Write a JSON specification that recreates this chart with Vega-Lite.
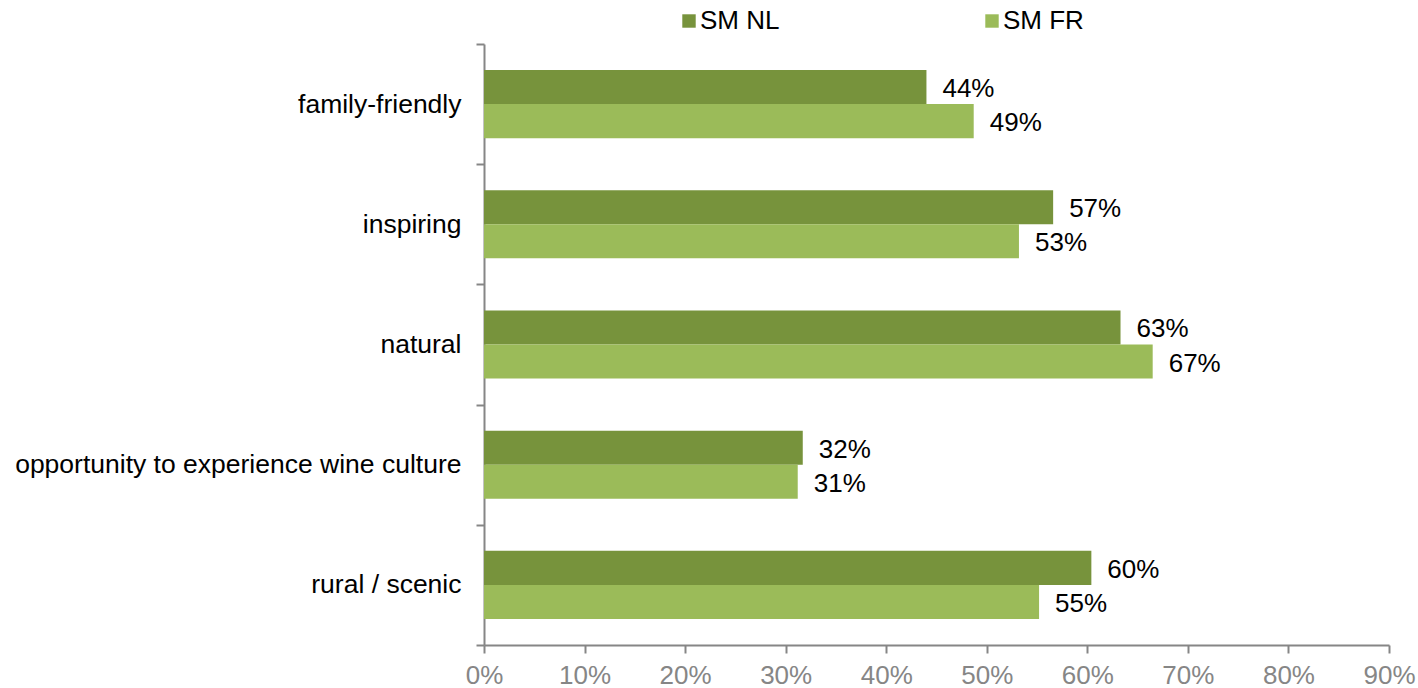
{
  "$schema": "https://vega.github.io/schema/vega-lite/v6.json",
  "width": 905,
  "height": 601,
  "autosize": {"type": "none"},
  "padding": {"left": 484, "top": 44, "right": 29, "bottom": 43},
  "background": "white",
  "config": {
    "view": {"stroke": null},
    "font": "Liberation Sans"
  },
  "data": {
    "values": [
      {"attribute": "family-friendly", "series": "SM NL", "share": 0.44},
      {"attribute": "family-friendly", "series": "SM FR", "share": 0.487},
      {"attribute": "inspiring", "series": "SM NL", "share": 0.566},
      {"attribute": "inspiring", "series": "SM FR", "share": 0.532},
      {"attribute": "natural", "series": "SM NL", "share": 0.633},
      {"attribute": "natural", "series": "SM FR", "share": 0.665},
      {"attribute": "opportunity to experience wine culture", "series": "SM NL", "share": 0.317},
      {"attribute": "opportunity to experience wine culture", "series": "SM FR", "share": 0.312},
      {"attribute": "rural / scenic", "series": "SM NL", "share": 0.604},
      {"attribute": "rural / scenic", "series": "SM FR", "share": 0.552}
    ]
  },
  "encoding": {
    "y": {
      "field": "attribute",
      "type": "nominal",
      "sort": null,
      "title": null,
      "scale": {"paddingInner": 0, "paddingOuter": 0},
      "axis": {
        "tickBand": "extent",
        "domainColor": "#868686",
        "domainWidth": 2,
        "tickColor": "#868686",
        "tickWidth": 2,
        "tickSize": 8,
        "labelPadding": 15,
        "labelFontSize": 26.5,
        "labelColor": "#000000",
        "labelLimit": 600
      }
    },
    "yOffset": {
      "field": "series",
      "type": "nominal",
      "sort": ["SM NL", "SM FR"],
      "scale": {"paddingInner": 0, "paddingOuter": 0.765}
    },
    "x": {
      "field": "share",
      "type": "quantitative",
      "title": null,
      "scale": {"domain": [0, 0.9], "nice": false},
      "axis": {
        "format": ".0%",
        "values": [0, 0.1, 0.2, 0.3, 0.4, 0.5, 0.6, 0.7, 0.8, 0.9],
        "grid": false,
        "labelFlush": false,
        "labelOverlap": false,
        "domainColor": "#868686",
        "domainWidth": 2,
        "tickColor": "#868686",
        "tickWidth": 2,
        "tickSize": 8,
        "labelPadding": 9,
        "labelFontSize": 26,
        "labelColor": "#868686"
      }
    }
  },
  "layer": [
    {
      "mark": {"type": "bar"},
      "encoding": {
        "color": {
          "field": "series",
          "type": "nominal",
          "sort": ["SM NL", "SM FR"],
          "scale": {"domain": ["SM NL", "SM FR"], "range": ["#77933C", "#9BBB59"]},
          "legend": {
            "title": null,
            "orient": "none",
            "direction": "horizontal",
            "legendX": 192,
            "legendY": -36,
            "symbolType": "square",
            "symbolSize": 180,
            "symbolStrokeWidth": 0,
            "symbolOpacity": 1,
            "labelFontSize": 26,
            "labelColor": "#000000",
            "labelOffset": -2,
            "columnPadding": 199
          }
        }
      }
    },
    {
      "mark": {"type": "text", "align": "left", "baseline": "middle", "dx": 16, "dy": 2, "fontSize": 26, "color": "#000000"},
      "encoding": {
        "text": {"field": "share", "type": "quantitative", "format": ".0%"}
      }
    }
  ]
}
